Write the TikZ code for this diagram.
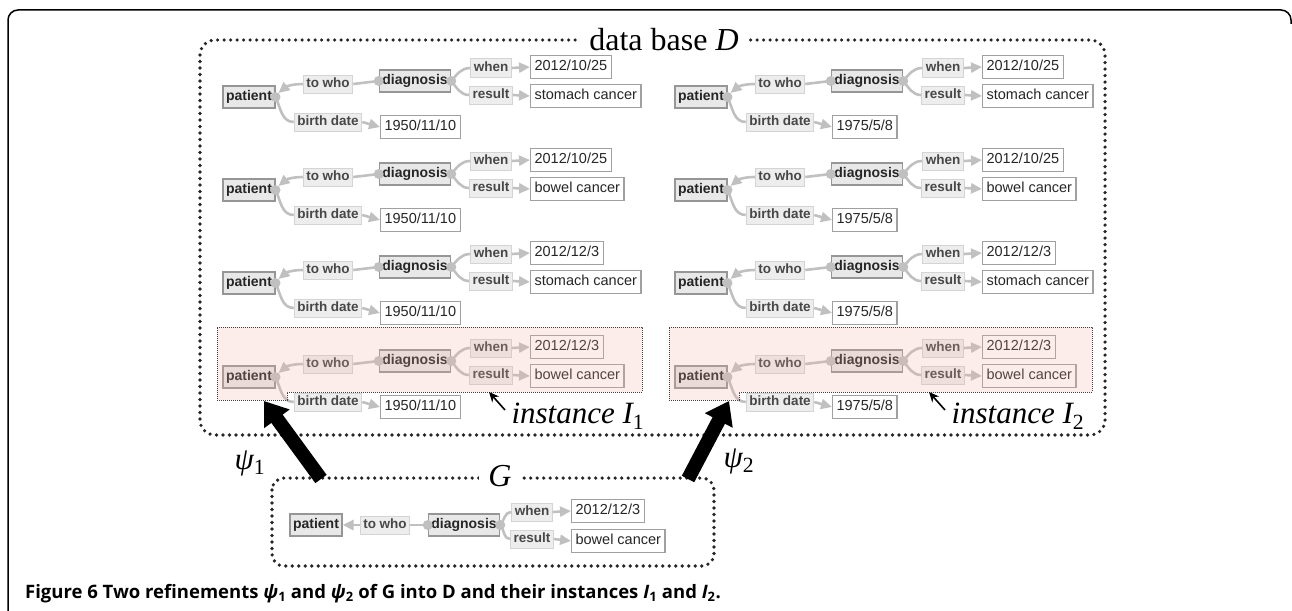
\documentclass[tikz,border=0pt]{standalone}
\usepackage{fontspec}
\setmainfont{Liberation Serif}
\setsansfont{Liberation Sans}
\newfontfamily\capfont{Open Sans}
\usetikzlibrary{arrows.meta,calc}
\definecolor{edgegray}{RGB}{192,192,192}
\definecolor{entfill}{RGB}{232,232,232}
\definecolor{entdraw}{RGB}{150,150,150}
\definecolor{labfill}{RGB}{237,237,237}
\definecolor{labdraw}{RGB}{212,212,212}
\definecolor{valdraw}{RGB}{160,160,160}
\definecolor{pinkbox}{RGB}{242,175,165}
\tikzset{
  ent/.style={draw=entdraw, fill=entfill, line width=1.2pt, font=\sffamily\bfseries\fontsize{14}{16}\selectfont, text=black!85, inner xsep=3pt, inner ysep=0pt, minimum height=22pt, text height=10pt, text depth=3pt},
  lab/.style={draw=labdraw, fill=labfill, line width=1pt, font=\sffamily\bfseries\fontsize{13.5}{16}\selectfont, text=black!72, inner xsep=3pt, inner ysep=0pt, minimum height=18pt, text height=10pt, text depth=3pt},
  val/.style={draw=valdraw, fill=white, line width=1.2pt, font=\sffamily\fontsize{14.5}{16}\selectfont, text=black!85, inner xsep=4pt, inner ysep=0pt, minimum height=23pt, text height=10pt, text depth=3pt, anchor=west},
  edge/.style={draw=edgegray, line width=2.6pt},
  arrowed/.style={-{Triangle[width=10pt,length=11pt]}},
  bigdot/.style={draw=black!85, line width=3.6pt, dash pattern=on 0pt off 6.5pt, line cap=round},
  instbox/.style={draw=black!75, line width=1pt, dash pattern=on 1pt off 1pt, fill=pinkbox, fill opacity=0.22},
  psiarrow/.style={line width=14pt, -{Triangle[width=30pt,length=22pt]}},
  serifbig/.style={font=\fontsize{31}{33}\selectfont},
}
\newcommand{\gdot}[1]{\fill[edgegray] (#1) circle (5pt);}
\newcommand{\drow}[6]{%
  \node[ent] (#1p) at (#2,#3) {patient};
  \node[lab] (#1t) at (#2+79,#3-13) {to who};
  \node[ent] (#1d) at (#2+166,#3-16) {diagnosis};
  \node[lab] (#1w) at (#2+242,#3-29) {when};
  \node[val] (#1wd) at (#2+281,#3-30) {#4};
  \node[lab] (#1r) at (#2+242,#3-2) {result};
  \node[val] (#1rc) at (#2+281,#3-1) {#5};
  \node[lab] (#1b) at (#2+79,#3+25) {birth date};
  \node[val] (#1bv) at (#2+131,#3+30) {#6};
  \draw[edge] (#1t.east) -- (#1d.west);
  \draw[edge,arrowed] (#1t.west) to[out=180,in=40] ([shift={(3,-4)}]#1p.east);
  \draw[edge] (#1p.east) to[out=-65,in=180] (#1b.west);
  \draw[edge,arrowed] (#1b.east) -- (#1bv.west);
  \draw[edge] (#1d.east) to[out=50,in=180] (#1w.west);
  \draw[edge] (#1d.east) to[out=-50,in=180] (#1r.west);
  \draw[edge,arrowed] (#1w.east) -- (#1wd.west);
  \draw[edge,arrowed] (#1r.east) -- (#1rc.west);
  \gdot{#1p.east}\gdot{#1d.west}\gdot{#1d.east}
}
\begin{document}
\begin{tikzpicture}[x=1pt,y=-1pt]
\useasboundingbox (0,0) rectangle (1292,610);
% outer frame
\draw[line width=1.5pt, rounded corners=10] (8,615) -- (8,10) -- (1291,10) -- (1291,24);
% data base frame
\draw[bigdot, rounded corners=15] (200,40) rectangle (1105,435);
\node[fill=white, inner xsep=9pt, inner ysep=2pt, font=\fontsize{32}{34}\selectfont] (dlab) at (664,40) {data base \textit{D}};
% rows
\drow{La}{249}{97}{2012/10/25}{stomach cancer}{1950/11/10}
\drow{Lb}{249}{190}{2012/10/25}{bowel cancer}{1950/11/10}
\drow{Lc}{249}{283}{2012/12/3}{stomach cancer}{1950/11/10}
\drow{Ld}{249}{377}{2012/12/3}{bowel cancer}{1950/11/10}
\drow{Ra}{701}{97}{2012/10/25}{stomach cancer}{1975/5/8}
\drow{Rb}{701}{190}{2012/10/25}{bowel cancer}{1975/5/8}
\drow{Rc}{701}{283}{2012/12/3}{stomach cancer}{1975/5/8}
\drow{Rd}{701}{377}{2012/12/3}{bowel cancer}{1975/5/8}
% instance boxes
\draw[instbox] (217,327) -- (642,327) -- (642,392) -- (287,392) -- (287,400) -- (217,400) -- cycle;
\draw[instbox] (669,327) -- (1092,327) -- (1092,392) -- (739,392) -- (739,400) -- (669,400) -- cycle;
\node[anchor=west, serifbig] (inst1) at (508,416) {\itshape instance I\textsubscript{\upshape 1}};
\node[anchor=west, serifbig] (inst2) at (948,416) {\itshape instance I\textsubscript{\upshape 2}};
\coordinate (i1tip) at (489,392);
\coordinate (i2tip) at (929,392);
\draw[line width=1.6pt, -{Stealth[length=10pt,width=9pt]}] ([shift={(-3,-6)}]inst1.west) -- (i1tip);
\draw[line width=1.6pt, -{Stealth[length=10pt,width=9pt]}] ([shift={(-3,-6)}]inst2.west) -- (i2tip);
% G frame
\draw[bigdot, rounded corners=12] (272,478) rectangle (714,566);
\node[fill=white, inner xsep=9pt, inner ysep=2pt, font=\fontsize{32}{34}\selectfont] (glab) at (500,476) {\textit{G}};
\node[ent] (Gp) at (316,525) {patient};
\node[lab] (Gt) at (385,525) {to who};
\node[ent] (Gd) at (464,525) {diagnosis};
\node[lab] (Gw) at (532,512) {when};
\node[val] (Gwd) at (571,511) {2012/12/3};
\node[lab] (Gr) at (532,539) {result};
\node[val] (Grc) at (571,541) {bowel cancer};
\draw[edge] (Gt.east) -- (Gd.west);
\draw[edge,arrowed] (Gt.west) -- (Gp.east);
\draw[edge] (Gd.east) to[out=50,in=180] (Gw.west);
\draw[edge] (Gd.east) to[out=-50,in=180] (Gr.west);
\draw[edge,arrowed] (Gw.east) -- (Gwd.west);
\draw[edge,arrowed] (Gr.east) -- (Grc.west);
\gdot{Gd.west}\gdot{Gd.east}
% psi arrows
\coordinate (a1s) at (321,479);
\coordinate (a1e) at (264,401);
\coordinate (a2s) at (688,479);
\coordinate (a2e) at (729,401);
\draw[psiarrow] (a1s) -- (a1e);
\draw[psiarrow] (a2s) -- (a2e);
\node[serifbig] (psi1) at (250,463) {{\itshape ψ}\textsubscript{1}};
\node[serifbig] (psi2) at (739,461) {{\itshape ψ}\textsubscript{2}};
% caption
\node[anchor=base west, inner sep=0pt, font=\capfont\bfseries\fontsize{18.5}{20}\selectfont] (cap) at (25,598) {Figure 6 Two refinements {\itshape ψ}\textsubscript{1} and {\itshape ψ}\textsubscript{2} of G into D and their instances {\itshape I}\textsubscript{1} and {\itshape I}\textsubscript{2}.};
\end{tikzpicture}
\end{document}
